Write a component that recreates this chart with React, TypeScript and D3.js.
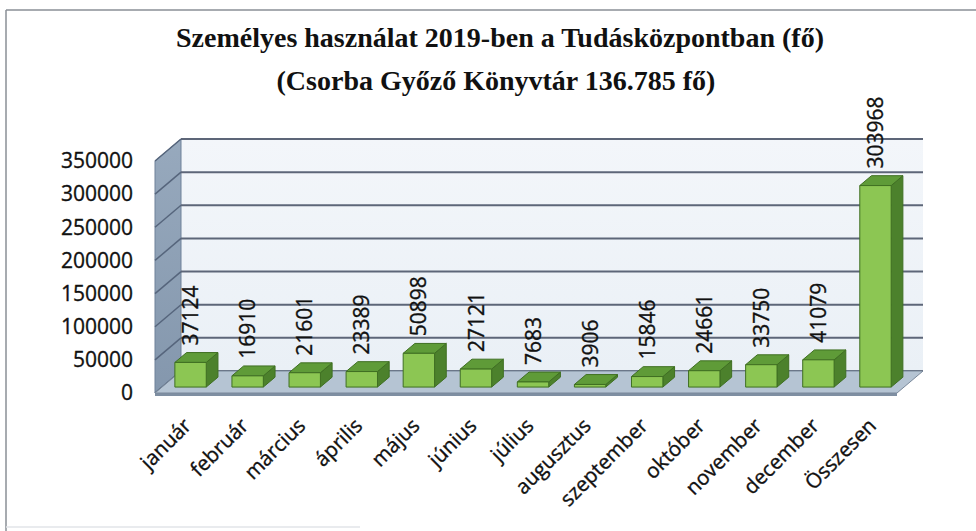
import React from "react";
import * as d3 from "d3";

const categories = ["január", "február", "március", "április", "május", "június", "július", "augusztus", "szeptember", "október", "november", "december", "Összesen"];
const values = [37124, 16910, 21601, 23389, 50898, 27121, 7683, 3906, 15846, 24661, 33750, 41079, 303968];
const yTicks = [0, 50000, 100000, 150000, 200000, 250000, 300000, 350000];
const titleLines = ["Személyes használat 2019-ben a Tudásközpontban (fő)", "(Csorba Győző Könyvtár 136.785 fő)"];

const W = 976, H = 531;
const X0 = 155, X1 = 897, FLOOR_Y = 393, TOP_Y = 161;
const DX = 26, DY = 22;
const BAR_F = 0.27, BAR_D = 0.45;

export default function App() {
  const y = d3.scaleLinear().domain([0, 350000]).range([FLOOR_Y, TOP_Y]);
  const x = d3.scaleBand<string>().domain(categories).range([X0, X1]).paddingInner(0.45).paddingOuter(0.225);
  const bw = x.bandwidth();
  const sx = BAR_F * DX, sy = BAR_F * DY;
  const bdx = BAR_D * DX, bdy = BAR_D * DY;
  const step = x.step();
  const font = "'Open Sans', sans-serif";
  const txtStroke = { stroke: "#111", strokeWidth: 0.35 };

  return (
    <svg width={W} height={H} style={{ position: "absolute", left: 0, top: 0, background: "#fff" }}>
      <defs>
        <linearGradient id="wallG" x1="0" y1="0" x2="0" y2="1">
          <stop offset="0" stopColor="#f3f6fa" />
          <stop offset="1" stopColor="#eaf0f6" />
        </linearGradient>
        <linearGradient id="sideG" x1="0" y1="0" x2="0" y2="1">
          <stop offset="0" stopColor="#97a9bd" />
          <stop offset="1" stopColor="#8497ad" />
        </linearGradient>
      </defs>
      {/* frame */}
      <line x1={6} y1={10} x2={976} y2={10} stroke="#8a8f96" strokeWidth={1.5} />
      <line x1={6} y1={10} x2={6} y2={531} stroke="#8a8f96" strokeWidth={1.5} />
      <line x1={6} y1={527} x2={360} y2={527} stroke="#e2e4e8" strokeWidth={1.5} />

      {/* title */}
      <text x={500} y={47} textAnchor="middle" fontFamily="'Liberation Serif', serif" fontWeight="bold" fontSize={28} fill="#111">{titleLines[0]}</text>
      <text x={496} y={90} textAnchor="middle" fontFamily="'Liberation Serif', serif" fontWeight="bold" fontSize={28} fill="#111">{titleLines[1]}</text>

      {/* back wall */}
      <rect x={X0 + DX} y={y(350000) - DY} width={X1 - X0} height={FLOOR_Y - y(350000)} fill="url(#wallG)" />
      {/* side wall */}
      <polygon points={`${X0},${FLOOR_Y} ${X0 + DX},${FLOOR_Y - DY} ${X0 + DX},${y(350000) - DY} ${X0},${y(350000)}`} fill="url(#sideG)" stroke="#6f8199" strokeWidth={1} />
      {/* grid */}
      {yTicks.map((t) => (
        <g key={t}>
          <line x1={X0 + DX} x2={X1 + DX} y1={y(t) - DY} y2={y(t) - DY} stroke="#5d6678" strokeWidth={2} />
          <line x1={X0} x2={X0 + DX} y1={y(t)} y2={y(t) - DY} stroke="#56657c" strokeWidth={1.5} />
        </g>
      ))}
      {/* floor */}
      <polygon points={`${X0},${FLOOR_Y} ${X1},${FLOOR_Y} ${X1},${FLOOR_Y + 3} ${X0},${FLOOR_Y + 3}`} fill="#7f8fa2" />
      <polygon points={`${X0},${FLOOR_Y} ${X1},${FLOOR_Y} ${X1 + DX},${FLOOR_Y - DY} ${X0 + DX},${FLOOR_Y - DY}`} fill="#b5c4d3" stroke="#7a899b" strokeWidth={1} />

      {/* y tick labels */}
      {yTicks.map((t) => (
        <text key={t} x={133} y={y(t)} dy="0.35em" textAnchor="end" fontFamily={font} fontSize={21} fill="#111" {...txtStroke}>{t}</text>
      ))}

      {/* bars */}
      {categories.map((c, i) => {
        const v = values[i];
        const bx = (x(c) as number) + sx;
        const bottom = FLOOR_Y - sy;
        const h = FLOOR_Y - y(v);
        const top = bottom - h;
        return (
          <g key={c} stroke="#3f6f22" strokeWidth={1} strokeLinejoin="round">
            <polygon points={`${bx + bw},${top} ${bx + bw + bdx},${top - bdy} ${bx + bw + bdx},${bottom - bdy} ${bx + bw},${bottom}`} fill="#4c812c" />
            <polygon points={`${bx},${top} ${bx + bw},${top} ${bx + bw + bdx},${top - bdy} ${bx + bdx},${top - bdy}`} fill="#5f9b38" />
            <rect x={bx} y={top} width={bw} height={h} fill="#8cc653" />
          </g>
        );
      })}

      {/* data labels */}
      {categories.map((c, i) => {
        const v = values[i];
        const bx = (x(c) as number) + sx;
        const top = FLOOR_Y - sy - (FLOOR_Y - y(v));
        const lx = bx + bw / 2;
        const ly = top - 17;
        return (
          <text key={c} transform={`translate(${lx},${ly}) rotate(-90)`} dy="0.36em" textAnchor="start" fontFamily={font} fontSize={21} fill="#111" {...txtStroke}>{v}</text>
        );
      })}

      {/* x labels */}
      {categories.map((c) => {
        const cx = X0 + (categories.indexOf(c) + 0.5) * step;
        return (
          <text key={c} transform={`translate(${cx + 9},${427}) rotate(-45)`} textAnchor="end" fontFamily={font} fontSize={20.5} fill="#111" {...txtStroke}>{c}</text>
        );
      })}
    </svg>
  );
}
